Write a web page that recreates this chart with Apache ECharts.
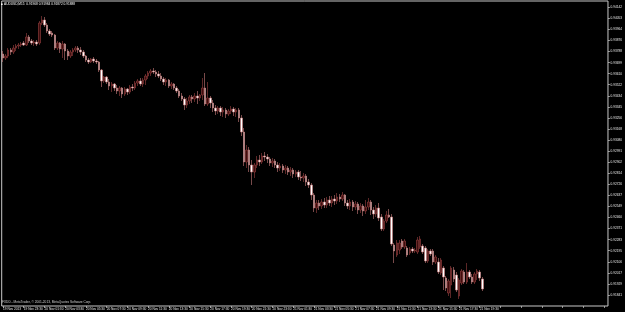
<!DOCTYPE html>
<html><head><meta charset="utf-8">
<script src="https://cdn.jsdelivr.net/npm/echarts@6/dist/echarts.min.js"></script>
<style>html,body{margin:0;padding:0;background:#000;overflow:hidden}#c{width:625px;height:312px}</style>
</head><body><div id="c"></div>
<script>
const symbol = 'AUDUSD,M15';
const copyright = 'FXDD - MetaTrader, \u00a9 2001-2013, MetaQuotes Software Corp.';
const tickLabels = ['19 Nov 2013','19 Nov 23:30','20 Nov 01:30','20 Nov 03:30','20 Nov 05:30','20 Nov 07:30','20 Nov 09:30','20 Nov 11:30','20 Nov 13:30','20 Nov 15:30','20 Nov 17:30','20 Nov 19:30','20 Nov 21:30','20 Nov 23:30','21 Nov 01:30','21 Nov 03:30','21 Nov 05:30','21 Nov 07:30','21 Nov 09:30','21 Nov 11:30','21 Nov 13:30','21 Nov 15:30','21 Nov 17:30','21 Nov 19:30'];
const barsPerLabel = 8;
const totalSlots = 234;
const priceMin = 0.91752, priceMax = 0.94192, priceInterval = 0.000885;

const opens = [
0.93768,0.93736,0.93752,0.93800,0.93784,0.93816,0.93832,0.93840,0.93856,0.93840,
0.93904,0.93872,0.93856,0.93864,0.93856,0.94016,0.94040,0.94000,0.93952,0.93936,
0.93920,0.93816,0.93856,0.93808,0.93848,0.93792,0.93752,0.93784,0.93800,0.93816,
0.93800,0.93784,0.93752,0.93720,0.93704,0.93728,0.93712,0.93704,0.93640,0.93552,
0.93584,0.93544,0.93512,0.93528,0.93496,0.93472,0.93496,0.93448,0.93488,0.93464,
0.93504,0.93496,0.93536,0.93552,0.93528,0.93560,0.93592,0.93616,0.93632,0.93624,
0.93608,0.93592,0.93568,0.93544,0.93560,0.93512,0.93528,0.93496,0.93472,0.93432,
0.93408,0.93360,0.93392,0.93424,0.93408,0.93432,0.93416,0.93440,0.93496,0.93368,
0.93416,0.93376,0.93336,0.93312,0.93336,0.93304,0.93320,0.93288,0.93312,0.93328,
0.93304,0.93320,0.93256,0.93144,0.92904,0.93000,0.92880,0.92824,0.92880,0.92920,
0.92904,0.92952,0.92944,0.92928,0.92896,0.92912,0.92880,0.92856,0.92872,0.92840,
0.92856,0.92824,0.92840,0.92808,0.92824,0.92784,0.92776,0.92792,0.92744,0.92720,
0.92640,0.92536,0.92576,0.92552,0.92584,0.92560,0.92600,0.92576,0.92608,0.92592,
0.92624,0.92608,0.92640,0.92576,0.92552,0.92584,0.92544,0.92568,0.92520,0.92552,
0.92512,0.92544,0.92584,0.92520,0.92488,0.92536,0.92464,0.92368,0.92432,0.92480,
0.92464,0.92240,0.92160,0.92200,0.92272,0.92224,0.92216,0.92176,0.92208,0.92192,
0.92184,0.92224,0.92232,0.92216,0.92112,0.92192,0.92192,0.92104,0.92104,0.92016,
0.92056,0.91976,0.91856,0.91920,0.92040,0.92000,0.91832,0.91936,0.92024,0.91944,
0.92024,0.91984,0.91944,0.92008,0.92024,0.91968];
const closes = [
0.93736,0.93752,0.93800,0.93784,0.93816,0.93832,0.93840,0.93848,0.93840,0.93904,
0.93872,0.93856,0.93864,0.93848,0.94016,0.94040,0.94000,0.93952,0.93928,0.93920,
0.93816,0.93856,0.93808,0.93848,0.93792,0.93752,0.93784,0.93800,0.93816,0.93800,
0.93784,0.93752,0.93720,0.93704,0.93728,0.93712,0.93704,0.93640,0.93552,0.93584,
0.93544,0.93512,0.93528,0.93496,0.93472,0.93496,0.93448,0.93488,0.93464,0.93504,
0.93496,0.93536,0.93552,0.93528,0.93560,0.93592,0.93616,0.93632,0.93624,0.93608,
0.93592,0.93568,0.93544,0.93560,0.93512,0.93528,0.93496,0.93472,0.93432,0.93408,
0.93360,0.93392,0.93424,0.93408,0.93432,0.93416,0.93440,0.93496,0.93368,0.93416,
0.93376,0.93336,0.93312,0.93336,0.93304,0.93320,0.93288,0.93312,0.93328,0.93304,
0.93320,0.93256,0.93144,0.92904,0.93000,0.92880,0.92824,0.92880,0.92920,0.92904,
0.92952,0.92944,0.92928,0.92896,0.92912,0.92880,0.92856,0.92872,0.92840,0.92856,
0.92824,0.92840,0.92808,0.92824,0.92784,0.92776,0.92792,0.92744,0.92720,0.92640,
0.92536,0.92576,0.92552,0.92584,0.92560,0.92600,0.92576,0.92608,0.92592,0.92624,
0.92608,0.92640,0.92576,0.92552,0.92584,0.92544,0.92568,0.92520,0.92552,0.92512,
0.92544,0.92584,0.92520,0.92488,0.92536,0.92456,0.92368,0.92432,0.92480,0.92464,
0.92248,0.92192,0.92256,0.92256,0.92224,0.92272,0.92160,0.92208,0.92192,0.92200,
0.92280,0.92288,0.92184,0.92112,0.92192,0.92168,0.92104,0.92144,0.92024,0.92120,
0.91984,0.91896,0.91952,0.92056,0.91968,0.91880,0.91960,0.92032,0.91944,0.92024,
0.91984,0.91944,0.92008,0.92032,0.91976,0.91888];
const lows = [
0.93704,0.93720,0.93736,0.93760,0.93768,0.93792,0.93808,0.93824,0.93832,0.93832,
0.93856,0.93840,0.93832,0.93832,0.93840,0.94000,0.93984,0.93936,0.93912,0.93904,
0.93800,0.93800,0.93776,0.93736,0.93720,0.93720,0.93736,0.93752,0.93784,0.93776,
0.93760,0.93736,0.93704,0.93688,0.93696,0.93696,0.93688,0.93624,0.93504,0.93536,
0.93528,0.93480,0.93464,0.93472,0.93448,0.93432,0.93416,0.93432,0.93440,0.93448,
0.93472,0.93480,0.93512,0.93512,0.93504,0.93520,0.93568,0.93592,0.93608,0.93584,
0.93576,0.93552,0.93520,0.93512,0.93496,0.93488,0.93480,0.93456,0.93416,0.93392,
0.93320,0.93336,0.93368,0.93376,0.93384,0.93368,0.93392,0.93400,0.93352,0.93352,
0.93336,0.93304,0.93280,0.93288,0.93272,0.93264,0.93256,0.93272,0.93288,0.93272,
0.93264,0.93224,0.93112,0.92872,0.92856,0.92824,0.92720,0.92776,0.92856,0.92872,
0.92888,0.92912,0.92896,0.92872,0.92864,0.92856,0.92824,0.92832,0.92816,0.92808,
0.92800,0.92792,0.92776,0.92784,0.92760,0.92752,0.92744,0.92712,0.92696,0.92600,
0.92504,0.92496,0.92520,0.92528,0.92536,0.92536,0.92552,0.92544,0.92560,0.92568,
0.92584,0.92592,0.92552,0.92528,0.92520,0.92512,0.92520,0.92488,0.92496,0.92472,
0.92488,0.92520,0.92480,0.92448,0.92464,0.92432,0.92352,0.92352,0.92416,0.92456,
0.92232,0.92096,0.92144,0.92168,0.92208,0.92208,0.92144,0.92160,0.92176,0.92176,
0.92168,0.92208,0.92168,0.92096,0.92096,0.92152,0.92080,0.92088,0.92008,0.92000,
0.91880,0.91872,0.91832,0.91816,0.91944,0.91864,0.91808,0.91920,0.91928,0.91928,
0.91968,0.91928,0.91928,0.91960,0.91952,0.91872];
const highs = [
0.93792,0.93768,0.93816,0.93816,0.93840,0.93848,0.93856,0.93864,0.93872,0.93936,
0.93920,0.93888,0.93880,0.93880,0.94032,0.94072,0.94064,0.94016,0.93968,0.93952,
0.93928,0.93872,0.93864,0.93872,0.93856,0.93808,0.93800,0.93816,0.93832,0.93832,
0.93824,0.93800,0.93760,0.93736,0.93736,0.93744,0.93728,0.93712,0.93648,0.93592,
0.93592,0.93568,0.93544,0.93536,0.93520,0.93512,0.93504,0.93504,0.93496,0.93520,
0.93528,0.93552,0.93568,0.93576,0.93576,0.93608,0.93632,0.93648,0.93656,0.93640,
0.93632,0.93616,0.93584,0.93576,0.93568,0.93544,0.93536,0.93512,0.93488,0.93456,
0.93424,0.93416,0.93440,0.93440,0.93456,0.93472,0.93448,0.93576,0.93616,0.93544,
0.93432,0.93400,0.93360,0.93352,0.93352,0.93344,0.93336,0.93328,0.93352,0.93344,
0.93336,0.93336,0.93280,0.93176,0.93040,0.93024,0.92920,0.92896,0.92952,0.92960,
0.92976,0.92984,0.92968,0.92944,0.92936,0.92928,0.92904,0.92896,0.92888,0.92880,
0.92872,0.92864,0.92856,0.92840,0.92840,0.92832,0.92816,0.92808,0.92768,0.92736,
0.92656,0.92600,0.92600,0.92608,0.92616,0.92624,0.92632,0.92632,0.92640,0.92656,
0.92648,0.92664,0.92648,0.92600,0.92608,0.92600,0.92592,0.92584,0.92576,0.92568,
0.92600,0.92616,0.92600,0.92544,0.92560,0.92576,0.92488,0.92448,0.92512,0.92528,
0.92488,0.92256,0.92280,0.92280,0.92288,0.92288,0.92232,0.92224,0.92224,0.92216,
0.92304,0.92312,0.92248,0.92232,0.92208,0.92208,0.92208,0.92160,0.92136,0.92136,
0.92072,0.91992,0.91968,0.92072,0.92064,0.92024,0.91976,0.92048,0.92040,0.92096,
0.92040,0.92008,0.92024,0.92048,0.92040,0.91984];

const categories = [];
for (let i = 0; i < totalSlots; i++) categories.push(String(i));
const ohlc = opens.map((o, i) => [o, closes[i], lows[i], highs[i]]);
const n = opens.length - 1;
const titleText = symbol + '  ' + [opens[n], highs[n], lows[n], closes[n]].map(v => v.toFixed(5)).join(' ');

const chart = echarts.init(document.getElementById('c'), null, {renderer: 'canvas'});
const axisCol = '#c8c8c8';
chart.setOption({
  backgroundColor: '#000',
  animation: false,
  textStyle: {fontFamily: 'Liberation Sans'},
  grid: {left: 0, right: 14, top: 1, bottom: 6, show: true, borderColor: axisCol, borderWidth: 1, backgroundColor: 'transparent'},
  xAxis: {
    type: 'category', data: categories, boundaryGap: true,
    axisLine: {show: false},
    axisTick: {show: true, interval: barsPerLabel - 1, alignWithLabel: true, length: 2, lineStyle: {color: axisCol, width: 0.7}},
    axisLabel: {interval: barsPerLabel - 1, align: 'left', margin: 1.2, fontSize: 3.2, color: '#e6e6e6',
      formatter: (v, idx) => tickLabels[idx / barsPerLabel] || ''},
    splitLine: {show: false}
  },
  yAxis: {
    type: 'value', position: 'right', min: priceMin, max: priceMax, interval: priceInterval,
    axisLine: {show: false},
    axisTick: {show: true, length: 2, lineStyle: {color: axisCol, width: 0.7}},
    axisLabel: {showMinLabel: false, showMaxLabel: false, fontSize: 3.2, color: '#e6e6e6', margin: 2.5,
      formatter: v => v.toFixed(5)},
    splitLine: {show: false}
  },
  series: [{
    type: 'candlestick', data: ohlc, barWidth: 2,
    itemStyle: {color: '#3e0e0e', color0: '#ffffff', borderColor: '#9a4242', borderColor0: '#c97c7c', borderWidth: 0.6},
    markLine: {
      silent: true, symbol: 'none', animation: false,
      lineStyle: {opacity: 0},
      data: [{yAxis: closes[n]}],
      label: {position: 'end', distance: 1, formatter: p => p.value.toFixed(5), fontSize: 3.2,
        color: '#000', backgroundColor: '#fff', padding: [0.5, 1]}
    }
  }],
  graphic: [
    {type: 'rect', left: 1, top: 3.5, shape: {width: 1.6, height: 1.6}, style: {fill: '#fff'}},
    {type: 'text', left: 4, top: 2.5, style: {text: titleText, fontSize: 3.2, fill: '#fff', fontFamily: 'Liberation Sans'}},
    {type: 'text', left: 2, top: 300.5, style: {text: copyright, fontSize: 3.2, fill: '#d0d0d0', fontFamily: 'Liberation Sans'}}
  ]
});
</script>
</body></html>
